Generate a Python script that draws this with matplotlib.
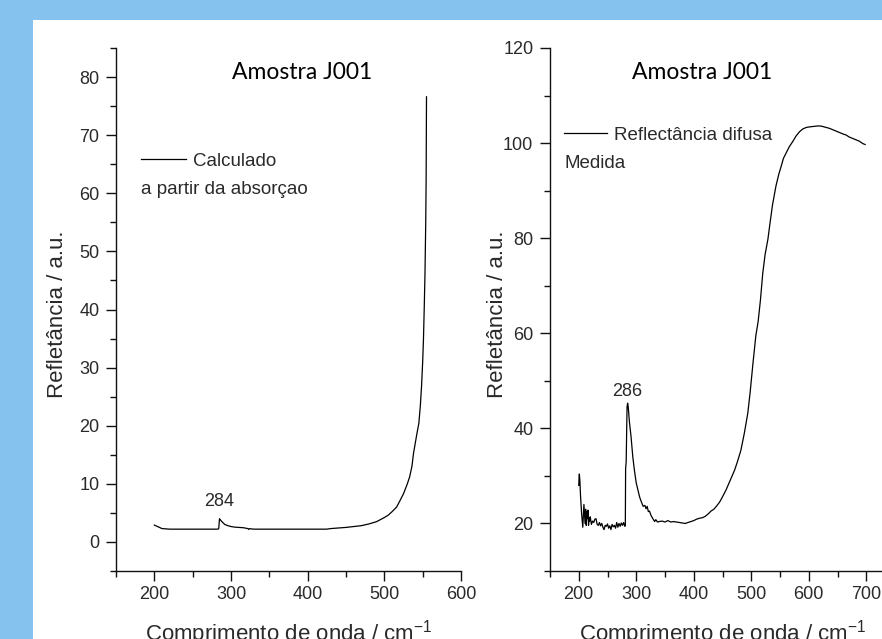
import numpy as np
import matplotlib.pyplot as plt
from matplotlib.patches import Rectangle
from matplotlib.lines import Line2D
from matplotlib.ticker import MultipleLocator

plt.rcParams['font.family'] = ['Liberation Sans', 'DejaVu Sans']
plt.rcParams['mathtext.fontset'] = 'custom'
plt.rcParams['mathtext.rm'] = 'Liberation Sans'

# left panel: calculated from absorption
calc_x = [200, 205, 210, 220, 250, 283, 284, 285, 288, 292, 296, 300, 305, 310, 316,
          320, 322, 323, 324, 326, 330, 350, 400, 425, 430, 440, 450, 460, 470, 480,
          490, 500, 505, 510, 516, 520, 525, 530, 533, 536, 538, 541, 543, 545, 547,
          548.5, 550, 551, 552, 553, 554, 554.5, 555]
calc_y = [2.9, 2.6, 2.3, 2.2, 2.2, 2.2, 2.3, 4.0, 3.5, 3.0, 2.8, 2.65, 2.55, 2.5, 2.45,
          2.35, 2.3, 2.15, 2.3, 2.25, 2.2, 2.2, 2.2, 2.2, 2.3, 2.4, 2.5, 2.65, 2.8, 3.1,
          3.5, 4.2, 4.6, 5.2, 6.0, 7.0, 8.3, 10.0, 11.2, 13.0, 15.2, 17.5, 19.0, 20.4, 23.5,
          26.7, 31.0, 34.7, 40.0, 46.0, 55.0, 62.0, 76.6]

# right panel: measured diffuse reflectance
meas_x = [200, 200.5, 201, 202, 203, 205, 207, 208, 209, 210, 211, 212, 213, 214, 215,
          216, 217, 218, 219, 220, 222, 224, 226, 228, 230, 232, 234, 236, 238, 240,
          242, 244, 246, 248, 250, 252, 254, 256, 258, 260, 262, 264, 266, 268, 270,
          272, 274, 276, 278, 280, 281, 281.5, 282.5, 284, 285, 286, 288, 291, 294, 297,
          300, 303, 306, 309, 312, 315, 317, 319, 321, 323, 326, 329, 332, 334, 337,
          340, 345, 350, 355, 360, 365, 370, 375, 380, 385, 390, 395, 400, 405, 410,
          415, 420, 425, 430, 435, 440, 445, 450, 456, 462, 468, 471, 476, 482, 488,
          494, 498, 503, 508, 512, 516, 520, 524, 529, 533, 537, 543, 548, 552, 556,
          561, 566, 572, 578, 584, 590, 596, 601, 608, 615, 620, 624, 630, 636, 642,
          648, 654, 660, 665, 670, 676, 682, 688, 694, 698]
meas_y = [28.0, 29.5, 30.4, 29.0, 26.0, 22.0, 19.2, 21.5, 24.0, 22.0, 20.0, 23.0, 19.6, 22.5, 21.0,
          22.8, 19.6, 21.2, 20.5, 21.4, 19.8, 20.5, 20.2, 20.9, 21.0, 19.8, 19.6, 20.2, 19.5, 20.0,
          19.2, 18.7, 19.6, 19.4, 19.9, 19.0, 19.5, 18.7, 19.8, 19.3, 19.6, 19.0, 20.2, 19.2, 20.0,
          19.4, 20.1, 19.6, 20.2, 19.4, 19.5, 31.5, 33.0, 44.5, 45.3, 44.6, 41.5, 38.2, 34.0, 31.0,
          28.5, 27.0, 25.5, 24.5, 23.6, 23.8, 23.1, 23.6, 22.5, 22.6, 21.6, 21.0, 20.4, 20.8, 20.3,
          20.4, 20.5, 20.3, 20.6, 20.3, 20.4, 20.3, 20.2, 20.1, 20.0, 20.2, 20.4, 20.6, 20.9, 21.1,
          21.2, 21.5, 22.0, 22.6, 23.0, 23.7, 24.5, 25.6, 27.0, 28.7, 30.4, 31.2, 33.0, 35.4, 39.0,
          43.2, 47.5, 53.7, 59.5, 62.5, 67.0, 72.6, 76.5, 79.8, 83.5, 87.0, 91.0, 93.5, 95.1, 96.8,
          98.0, 99.2, 100.3, 101.5, 102.4, 103.0, 103.3, 103.4, 103.5, 103.6, 103.6, 103.5, 103.3, 103.1, 102.8,
          102.5, 102.2, 101.9, 101.7, 101.3, 101.0, 100.7, 100.4, 99.9, 99.7]

title = 'Amostra J001'
xlab = 'Comprimento de onda / cm$^{-1}$'
ylab = 'Refletância / a.u.'

W, H = 882, 639
fig = plt.figure(figsize=(W / 100, H / 100), dpi=100)
fig.patch.set_facecolor('#86c2ee')
fig.patches.append(Rectangle((33 / W, 0), 1, (H - 19.5) / H, transform=fig.transFigure,
                             facecolor='white', edgecolor='none', zorder=-10))

ax1 = fig.add_axes([116 / W, (H - 571) / H, 345 / W, 523 / H])
ax2 = fig.add_axes([550 / W, (H - 571) / H, 345 / W, 523 / H])

txt = '#2a2a2a'
for ax in (ax1, ax2):
    ax.set_facecolor('none')
    for s in ('top', 'right'):
        ax.spines[s].set_visible(False)
    for s in ('left', 'bottom'):
        ax.spines[s].set_linewidth(1.0)
        ax.spines[s].set_color('#111111')
    ax.tick_params(which='major', direction='out', length=7, width=1.0, color='#111111',
                   labelsize=13, labelcolor=txt)
    ax.tick_params(which='minor', direction='out', length=4, width=1.0, color='#111111')
    ax.tick_params(axis='y', which='major', pad=5)
    ax.tick_params(axis='x', which='major', pad=4)
    ax.xaxis.set_major_locator(MultipleLocator(100))
    ax.xaxis.set_minor_locator(MultipleLocator(50))
    ax.set_xlabel(xlab, fontsize=16, color=txt)
    ax.set_ylabel(ylab, fontsize=16, color=txt)

# left
ax1.plot(calc_x, calc_y, color='black', lw=0.9)
ax1.set_xlim(150, 600)
ax1.set_ylim(-5, 85)
ax1.yaxis.set_major_locator(MultipleLocator(10))
ax1.yaxis.set_minor_locator(MultipleLocator(5))
ax1.text(0.539, 0.954, title, transform=ax1.transAxes, ha='center', va='center',
         fontsize=16.5, family='Lato', color='black')
ax1.text(284.7, 6.9, '284', ha='center', va='center', fontsize=13, color=txt)
ax1.legend([Line2D([], [], color='black', lw=0.9)], ['Calculado'], loc='upper left',
           bbox_to_anchor=(0.0725, 0.80), frameon=False, borderpad=0, borderaxespad=0,
           handlelength=2.38, handletextpad=0.4, fontsize=13.5, labelcolor=txt)
ax1.text(0.0725, 0.730, 'a partir da absorçao', transform=ax1.transAxes, ha='left',
         va='center', fontsize=13.5, color=txt)
ax1.xaxis.set_label_coords(0.5, -0.09)
ax1.yaxis.set_label_coords(-0.139, 0.49)

# right
ax2.plot(meas_x, meas_y, color='black', lw=0.9)
ax2.set_xlim(150, 750)
ax2.set_ylim(10, 120)
ax2.yaxis.set_major_locator(MultipleLocator(20))
ax2.yaxis.set_minor_locator(MultipleLocator(10))
ax2.text(0.44, 0.954, title, transform=ax2.transAxes, ha='center', va='center',
         fontsize=16.5, family='Lato', color='black')
ax2.text(283.5, 47.7, '286', ha='center', va='center', fontsize=13, color=txt)
ax2.legend([Line2D([], [], color='black', lw=0.9)], ['Reflectância difusa'], loc='upper left',
           bbox_to_anchor=(0.0415, 0.850), frameon=False, borderpad=0, borderaxespad=0,
           handlelength=2.3, handletextpad=0.33, fontsize=13.5, labelcolor=txt)
ax2.text(0.0415, 0.780, 'Medida', transform=ax2.transAxes, ha='left',
         va='center', fontsize=13.5, color=txt)
ax2.xaxis.set_label_coords(0.5, -0.09)
ax2.yaxis.set_label_coords(-0.122, 0.49)

fig.savefig('out.png', dpi=100)
